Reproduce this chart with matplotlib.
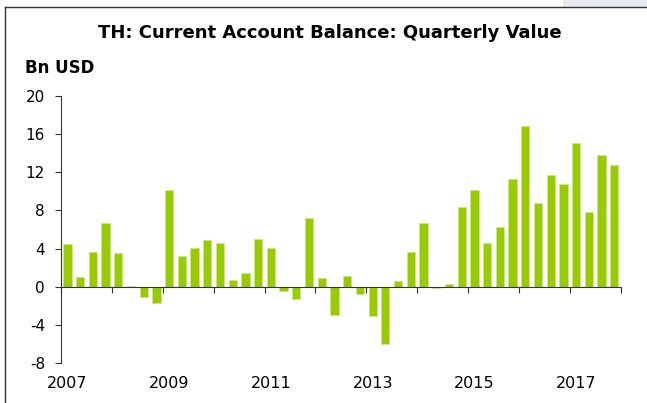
import numpy as np
import matplotlib
matplotlib.use("Agg")
import matplotlib.pyplot as plt
from matplotlib.lines import Line2D
from matplotlib.patches import Rectangle

plt.rcParams.update({
    'font.family': ['DejaVu Sans'],
    'axes.unicode_minus': False,
})

# quarterly current account balance, Bn USD, 2007Q1 .. 2017Q4
years = list(range(2007, 2018))
values = [4.5, 1.0, 3.6, 6.7, 3.5, 0.1, -1.1, -1.7,
          10.1, 3.2, 4.1, 4.9, 4.6, 0.7, 1.4, 5.0,
          4.1, -0.45, -1.3, 7.2, 0.9, -2.9, 1.1, -0.8,
          -3.0, -6.0, 0.6, 3.6, 6.7, -0.15, 0.3, 8.4,
          10.1, 4.6, 6.3, 11.3, 16.8, 8.8, 11.7, 10.8,
          15.0, 7.8, 13.8, 12.7]
yticks = [-8, -4, 0, 4, 8, 12, 16, 20]
year_labels = ['2007', '2009', '2011', '2013', '2015', '2017']

fig = plt.figure(figsize=(6.47, 4.03), dpi=100)
ax = fig.add_axes([0.0943, 0.0985, 0.865, 0.664])

x = np.arange(len(values)) + 0.5
ax.bar(x, values, width=0.65, color='#99cc00', edgecolor='#cbe68c', linewidth=0.6)

ax.set_xlim(0, len(values))
ax.set_ylim(-8, 20)
ax.set_yticks(yticks)
ax.tick_params(axis='y', length=4.5, width=0.8, pad=7, labelsize=11, color='#333333')

# zero line carries the year ticks
ax.spines['bottom'].set_position(('data', 0))
ax.spines['top'].set_visible(False)
ax.spines['right'].set_visible(False)
for s in ['bottom', 'left']:
    ax.spines[s].set_color('#333333')
    ax.spines[s].set_linewidth(0.8)
ax.set_xticks(np.arange(0, len(values) + 1, 4))
ax.set_xticklabels([])
ax.tick_params(axis='x', length=4, width=0.8, color='#333333')

# year labels at the bottom, centred on Q1
for lab in year_labels:
    q = (int(lab) - years[0]) * 4 + 0.5
    ax.text(q, -0.074, lab, transform=ax.get_xaxis_transform(),
            ha='center', va='center', fontsize=11.5)

fig.text(0.51, 0.918, 'TH: Current Account Balance: Quarterly Value',
         ha='center', va='center', fontsize=13, fontweight='bold')
fig.text(0.038, 0.831, 'Bn USD', ha='left', va='center',
         fontsize=12, fontweight='bold')

# frame lines and top-right band
fig.add_artist(Rectangle((0.87, 0.983), 0.13, 0.017, transform=fig.transFigure,
                         color='#e9e9f4', lw=0))
fig.add_artist(Line2D([0.008, 1.0], [0.983, 0.983], transform=fig.transFigure,
                      color='#333333', lw=1))
fig.add_artist(Line2D([0.008, 0.008], [0.0, 0.983], transform=fig.transFigure,
                      color='#333333', lw=1))

fig.savefig('out.png', dpi=100)
